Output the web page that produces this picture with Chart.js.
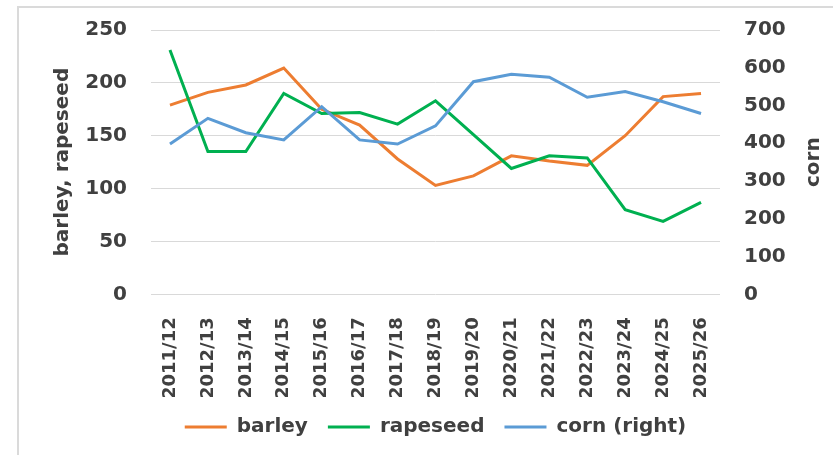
<!DOCTYPE html>
<html>
<head>
<meta charset="utf-8">
<script src="https://cdn.jsdelivr.net/npm/chart.js@4/dist/chart.umd.min.js"></script>
<style>
  html, body { margin: 0; padding: 0; background: #fff; }
  #wrap { position: relative; width: 833px; height: 455px; overflow: hidden; }
  #frame { position: absolute; left: 17px; top: 6px; width: 900px; height: 500px;
           border: 2px solid #dadada; pointer-events: none; }
  #chartCanvas { position: absolute; left: 0; top: 0; }
</style>
</head>
<body>
<div id="wrap">
  <canvas id="chartCanvas" width="833" height="455"></canvas>
  <div id="frame"></div>
</div>
<script>
const seasons = ['2011/12', '2012/13', '2013/14', '2014/15', '2015/16', '2016/17', '2017/18', '2018/19',
                 '2019/20', '2020/21', '2021/22', '2022/23', '2023/24', '2024/25', '2025/26'];
const barley = [179, 191, 198, 214, 175, 160, 128, 103, 112, 131, 126, 122, 150, 187, 190];
const rapeseed = [231, 135, 135, 190, 171, 172, 161, 183, 151, 119, 131, 129, 80, 69, 87];
const corn = [398, 466, 428, 409, 497, 409, 398, 446, 563, 583, 575, 522, 537, 510, 479];

const textColor = '#404040';
const fontFamily = '"DejaVu Sans", sans-serif';

// axis titles drawn by hand so both read bottom-to-top
const axisTitles = {
    id: 'axisTitles',
    afterDraw(chart) {
        const ctx = chart.ctx;
        const area = chart.chartArea;
        const midY = (area.top + area.bottom) / 2;
        ctx.save();
        ctx.fillStyle = textColor;
        ctx.font = 'bold 20px ' + fontFamily;
        ctx.textAlign = 'center';
        ctx.textBaseline = 'middle';
        [[63, 'barley, rapeseed'], [814, 'corn']].forEach(([x, text]) => {
            ctx.save();
            ctx.translate(x, midY);
            ctx.rotate(-Math.PI / 2);
            ctx.fillText(text, 0, 0);
            ctx.restore();
        });
        ctx.restore();
    }
};

// fixed width for the value axes; drop the label padding so the plot top stays put
function fixAxis(width) {
    return scale => {
        scale.width = width;
        scale.paddingTop = 0;
        scale.paddingBottom = 0;
    };
}

function lineSet(label, data, color, axis, order) {
    return {
        label: label,
        data: data,
        yAxisID: axis,
        borderColor: color,
        backgroundColor: color,
        borderWidth: 3,
        pointRadius: 0,
        tension: 0,
        fill: false,
        order: order
    };
}

const ctx = document.getElementById('chartCanvas').getContext('2d');
new Chart(ctx, {
    type: 'line',
    data: {
        labels: seasons,
        datasets: [
            lineSet('barley', barley, '#ED7D31', 'y', 3),
            lineSet('rapeseed', rapeseed, '#00B050', 'y', 2),
            lineSet('corn (right)', corn, '#5B9BD5', 'y1', 1)
        ]
    },
    options: {
        responsive: false,
        animation: false,
        layout: { padding: { top: 30, bottom: 8, left: 0, right: 0 } },
        scales: {
            x: {
                offset: true,
                grid: { display: false },
                border: { display: false },
                ticks: {
                    color: textColor,
                    font: { family: fontFamily, size: 18, weight: 'bold' },
                    minRotation: 90,
                    maxRotation: 90,
                    autoSkip: false,
                    padding: 15
                },
                afterFit: scale => { scale.height = 102.7; }
            },
            y: {
                position: 'left',
                min: 0,
                max: 250,
                ticks: {
                    stepSize: 50,
                    color: textColor,
                    font: { family: fontFamily, size: 20, weight: 'bold' },
                    padding: 24
                },
                grid: { color: '#d9d9d9', lineWidth: 1, drawTicks: false },
                border: { display: false },
                afterFit: fixAxis(151)
            },
            y1: {
                position: 'right',
                min: 0,
                max: 700,
                ticks: {
                    stepSize: 100,
                    color: textColor,
                    font: { family: fontFamily, size: 20, weight: 'bold' },
                    padding: 24
                },
                grid: { display: false, drawTicks: false },
                border: { display: false },
                afterFit: fixAxis(113)
            }
        },
        plugins: {
            tooltip: { enabled: false },
            legend: {
                position: 'bottom',
                fullSize: false,
                labels: {
                    color: textColor,
                    font: { family: fontFamily, size: 20, weight: 'bold' },
                    boxWidth: 42,
                    boxHeight: 3,
                    padding: 20,
                    sort: (a, b) => a.datasetIndex - b.datasetIndex,
                    generateLabels: chart => Chart.defaults.plugins.legend.labels.generateLabels(chart)
                        .map(item => Object.assign(item, { lineWidth: 0 }))
                }
            }
        }
    },
    plugins: [axisTitles]
});
</script>
</body>
</html>
